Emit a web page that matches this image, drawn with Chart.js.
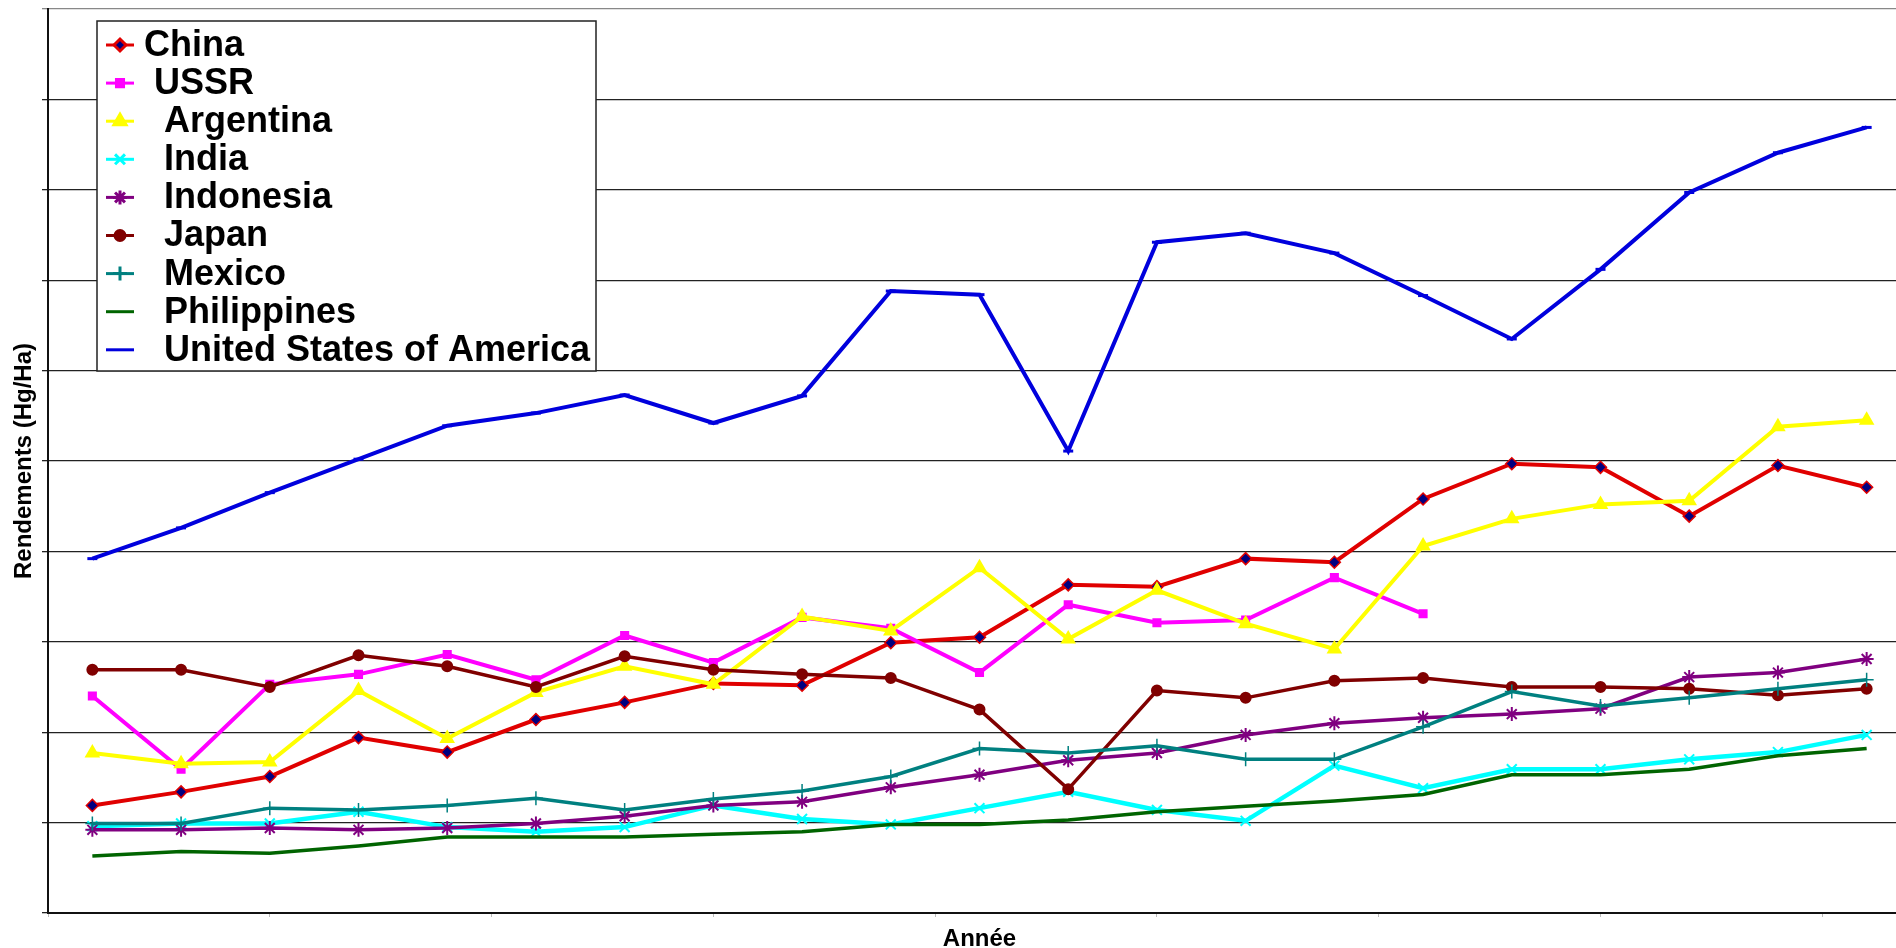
<!DOCTYPE html>
<html>
<head>
<meta charset="utf-8">
<title>Rendements</title>
<script src="https://cdn.jsdelivr.net/npm/chart.js@4/dist/chart.umd.min.js"></script>
<style>
    html, body { margin: 0; padding: 0; background: #fff; overflow: hidden; }
    #wrap { width: 1920px; height: 948px; }
</style>
</head>
<body>
<div id="wrap"><canvas id="yield-chart" width="1920" height="948"></canvas></div>
<script>
// Data
const years = [1961, 1963, 1965, 1967, 1969, 1971, 1973, 1975, 1977, 1979, 1981,
    1983, 1985, 1987, 1989, 1991, 1993, 1995, 1997, 1999, 2001];

const china = [11900, 13400, 15100, 19400, 17800, 21400, 23300, 25400, 25200, 29900, 30500,
    36300, 36100, 39200, 38800, 45800, 49700, 49300, 43900, 49500, 47100];
const ussr = [24000, 15900, 25300, 26400, 28600, 25800, 30700, 27700, 32700, 31500, 26600,
    34100, 32100, 32400, 37100, 33100];
const argentina = [17700, 16500, 16700, 24600, 19300, 24400, 27300, 25300, 32800, 31200, 38200,
    30300, 35700, 32000, 29200, 40600, 43600, 45200, 45600, 53800, 54500];
const india = [9600, 9900, 9900, 11200, 9500, 9000, 9500, 11900, 10400, 9800, 11600,
    13400, 11400, 10200, 16300, 13800, 15900, 15900, 17000, 17800, 19700];
const indonesia = [9200, 9200, 9400, 9200, 9400, 9900, 10700, 11900, 12300, 13900, 15300,
    16900, 17700, 19700, 21000, 21600, 22000, 22600, 26100, 26600, 28100];
const japan = [26900, 26900, 25000, 28500, 27300, 25000, 28400, 26900, 26400, 26000, 22500,
    13700, 24600, 23800, 25700, 26000, 25000, 25000, 24800, 24100, 24800];
const mexico = [9900, 9900, 11600, 11400, 11900, 12700, 11400, 12600, 13500, 15100, 18200,
    17700, 18500, 17000, 17000, 20600, 24500, 22900, 23800, 24800, 25800];
const philippines = [6300, 6800, 6600, 7400, 8400, 8400, 8400, 8700, 9000, 9800, 9800,
    10300, 11200, 11800, 12400, 13100, 15300, 15300, 15900, 17400, 18200];
const usa = [39200, 42600, 46500, 50200, 53900, 55300, 57300, 54200, 57200, 68800, 68400,
    51100, 74200, 75200, 73000, 68300, 63500, 71200, 79700, 84100, 86900];

const FONT = "'Liberation Sans', Arial, sans-serif";

function toPoints(values) {
    return values.map((v, i) => ({ x: years[i], y: v }));
}

function series(label, values, color, style) {
    return Object.assign({
        label: label,
        data: toPoints(values),
        borderColor: color,
        backgroundColor: color,
        pointBorderColor: color,
        pointBackgroundColor: color,
        borderWidth: 4,
        tension: 0,
        pointRadius: 5,
        pointBorderWidth: 2,
        pointStyle: 'circle',
    }, style);
}

const datasets = [
    series('China', china, '#E00000', { pointStyle: 'rectRot', pointRadius: 6, pointBackgroundColor: '#000080', pointBorderWidth: 1.5 }),
    series(' USSR', ussr, '#FF00FF', { pointStyle: 'rect', pointRadius: 5 }),
    series('  Argentina', argentina, '#FFFF00', { pointStyle: 'triangle', pointRadius: 7 }),
    series('  India', india, '#00FFFF', { pointStyle: 'crossRot', pointRadius: 7, borderWidth: 4.5 }),
    series('  Indonesia', indonesia, '#800080', { pointStyle: 'star', pointRadius: 7, borderWidth: 3.5 }),
    series('  Japan', japan, '#800000', { pointStyle: 'circle', pointRadius: 5, borderWidth: 3.5 }),
    series('  Mexico', mexico, '#008080', { pointStyle: 'cross', pointRadius: 7, pointBorderWidth: 1.5, borderWidth: 3.5 }),
    series('  Philippines', philippines, '#006400', { pointRadius: 0, borderWidth: 3.5 }),
    series('  United States of America', usa, '#0000DD', { pointStyle: 'line', pointRadius: 5, pointBorderWidth: 3 }),
];
// later series are painted over earlier ones
datasets.forEach((ds, i) => { ds.order = -i; });

// Boxed legend in the top-left corner of the plot
const boxLegend = {
    id: 'boxLegend',
    afterDraw(chart) {
        const ctx = chart.ctx;
        const box = { x: 97, y: 21, w: 499, h: 350 };
        ctx.save();
        ctx.fillStyle = '#fff';
        ctx.fillRect(box.x, box.y, box.w, box.h);
        ctx.strokeStyle = '#222';
        ctx.lineWidth = 1.5;
        ctx.strokeRect(box.x, box.y, box.w, box.h);

        ctx.font = 'bold 36px ' + FONT;
        ctx.textBaseline = 'middle';
        chart.data.datasets.forEach((ds, i) => {
            const y = 45 + i * 38.1;
            ctx.strokeStyle = ds.borderColor;
            ctx.lineWidth = 3;
            ctx.beginPath();
            ctx.moveTo(106, y);
            ctx.lineTo(134, y);
            ctx.stroke();
            if (ds.pointRadius > 0 && ds.pointStyle !== 'line') {
                ctx.fillStyle = ds.pointBackgroundColor;
                ctx.strokeStyle = ds.pointBorderColor;
                Chart.helpers.drawPoint(ctx, {
                    pointStyle: ds.pointStyle,
                    radius: ds.pointRadius,
                    borderWidth: ds.pointBorderWidth,
                    rotation: 0,
                }, 120, y);
            }
            ctx.fillStyle = '#000';
            ctx.fillText(ds.label, 144, y + 1);
        });
        ctx.restore();
    }
};

// Initialize Chart
function initializeChart() {
    const chartCtx = document.getElementById('yield-chart').getContext('2d');
    new Chart(chartCtx, {
        type: 'line',
        data: { datasets: datasets },
        plugins: [boxLegend],
        options: {
            responsive: false,
            animation: false,
            devicePixelRatio: 1,
            layout: { padding: { top: 9, right: 3, bottom: 0, left: 0 } },
            plugins: {
                legend: { display: false },
                tooltip: { enabled: false },
            },
            scales: {
                x: {
                    type: 'linear',
                    min: 1960,
                    max: 2002,
                    ticks: { display: false, stepSize: 5 },
                    grid: { drawOnChartArea: false, drawTicks: true, tickLength: 4, color: '#bbb' },
                    border: { color: '#111', width: 2 },
                    title: {
                        display: true,
                        text: 'Année',
                        color: '#000',
                        font: { family: FONT, size: 24, weight: 'bold', lineHeight: 1 },
                        padding: { top: 0, bottom: -3 },
                    },
                    afterFit(scale) { scale.height = 35; },
                },
                y: {
                    min: 0,
                    max: 100000,
                    ticks: { display: false, stepSize: 10000 },
                    grid: {
                        color: c => (c.tick && c.tick.value === 100000 ? '#888' : '#222'),
                        lineWidth: 1.3,
                        tickLength: 6,
                    },
                    border: { color: '#111', width: 2 },
                    title: {
                        display: true,
                        text: 'Rendements (Hg/Ha)',
                        color: '#000',
                        font: { family: FONT, size: 24, weight: 'bold', lineHeight: 1 },
                        padding: { top: 12, bottom: 0 },
                    },
                    afterFit(scale) { scale.width = 48; },
                },
            },
        },
    });
}

// Initialize
document.addEventListener('DOMContentLoaded', () => {
    initializeChart();
});
</script>
</body>
</html>
